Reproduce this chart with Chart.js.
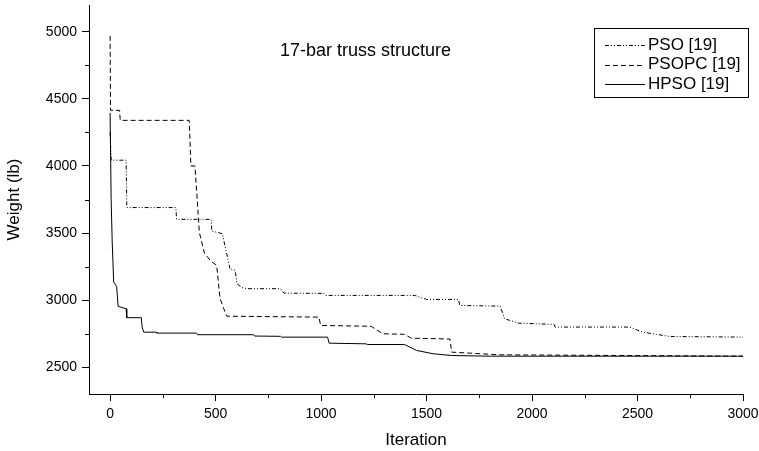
<!DOCTYPE html>
<html>
<head>
<meta charset="utf-8">
<script src="https://cdn.jsdelivr.net/npm/chart.js@4.4.1/dist/chart.umd.min.js"></script>
<style>
html,body{margin:0;padding:0;background:#fff;}
canvas{display:block;}
</style>
</head>
<body>
<canvas id="c" width="759" height="451"></canvas>
<script>
// ---- Data ----
const chartTitle = "17-bar truss structure";
const xTicks = [0, 500, 1000, 1500, 2000, 2500, 3000];
const xMinorTicks = [250, 750, 1250, 1750, 2250, 2750];
const yTicks = [2500, 3000, 3500, 4000, 4500, 5000];
const yMinorTicks = [2750, 3250, 3750, 4250, 4750];

const psoLabel = "PSO [19]";
const psoIter   = [0, 5, 76, 79, 312, 315, 479, 482, 532, 569, 593, 601, 625, 650, 808, 824, 1014, 1020, 1444, 1500, 1651, 1658, 1849, 1870, 1937, 2104, 2110, 2462, 2525, 2653, 3000];
const psoWeight = [4250, 4043, 4043, 3690, 3690, 3602, 3602, 3515, 3495, 3229, 3222, 3122, 3093, 3085, 3085, 3052, 3050, 3035, 3035, 3005, 3005, 2960, 2955, 2861, 2828, 2819, 2799, 2799, 2761, 2729, 2724];

const psopcLabel = "PSOPC [19]";
const psopcIter   = [0, 2, 45, 48, 375, 383, 402, 410, 423, 447, 478, 505, 521, 537, 553, 990, 998, 1237, 1293, 1395, 1428, 1611, 1619, 1848, 3000];
const psopcWeight = [4970, 4415, 4415, 4340, 4340, 4000, 4000, 3820, 3505, 3350, 3290, 3260, 3013, 2943, 2880, 2873, 2811, 2805, 2749, 2745, 2716, 2710, 2612, 2592, 2582];

const hpsoLabel = "HPSO [19]";
const hpsoIter   = [0, 5, 10, 17, 31, 38, 76, 79, 148, 152, 159, 219, 222, 410, 415, 680, 685, 808, 812, 1031, 1038, 1213, 1220, 1396, 1452, 1531, 1619, 1800, 3000];
const hpsoWeight = [4395, 3750, 3433, 3134, 3102, 2953, 2936, 2869, 2869, 2799, 2761, 2761, 2754, 2754, 2742, 2742, 2732, 2730, 2724, 2724, 2679, 2674, 2669, 2669, 2625, 2600, 2587, 2582, 2582];

const FONT = "'Liberation Sans', Arial, Helvetica, sans-serif";

function pts(xs, ys) { return xs.map((x, i) => ({x: x, y: ys[i]})); }

const datasets = [
  {label: psoLabel, data: pts(psoIter, psoWeight), borderDash: [4, 2, 1, 2, 1, 2]},
  {label: psopcLabel, data: pts(psopcIter, psopcWeight), borderDash: [5, 3]},
  {label: hpsoLabel, data: pts(hpsoIter, hpsoWeight), borderDash: []}
].map(d => Object.assign(d, {
  borderColor: '#000', backgroundColor: '#000', borderWidth: 1,
  pointRadius: 0, tension: 0, fill: false
}));

const extras = {
  id: 'extras',
  afterDraw(chart) {
    const ctx = chart.ctx;
    const xs = chart.scales.x, ys = chart.scales.y;
    ctx.save();
    ctx.strokeStyle = '#000';
    ctx.lineWidth = 1;
    // minor ticks
    ctx.beginPath();
    xMinorTicks.forEach(v => {
      const p = Math.round(xs.getPixelForValue(v)) + 0.5;
      ctx.moveTo(p, xs.top); ctx.lineTo(p, xs.top + 4);
    });
    yMinorTicks.forEach(v => {
      const p = Math.round(ys.getPixelForValue(v)) + 0.5;
      ctx.moveTo(ys.right, p); ctx.lineTo(ys.right - 4, p);
    });
    ctx.stroke();
    // title inside plot
    ctx.fillStyle = '#000';
    ctx.font = "18px " + FONT;
    ctx.textBaseline = 'middle';
    ctx.textAlign = 'left';
    ctx.fillText(chartTitle, 280, 51);
    // legend box
    const bx = 594.5, by = 28.5, bw = 154, bh = 69;
    ctx.strokeRect(bx, by, bw, bh);
    ctx.font = "17px " + FONT;
    const rows = [45, 64.5, 84];
    chart.data.datasets.forEach((d, i) => {
      const y = Math.round(rows[i]) + 0.5;
      ctx.setLineDash(d.borderDash);
      ctx.beginPath();
      ctx.moveTo(605, y); ctx.lineTo(645, y);
      ctx.stroke();
      ctx.setLineDash([]);
      ctx.fillText(d.label, 648, rows[i]);
    });
    ctx.restore();
  }
};

new Chart(document.getElementById('c'), {
  type: 'line',
  data: {datasets: datasets},
  plugins: [extras],
  options: {
    responsive: false,
    animation: false,
    devicePixelRatio: 1,
    layout: {padding: {left: 0, right: 16, top: 5, bottom: 0}},
    plugins: {legend: {display: false}, tooltip: {enabled: false}, title: {display: false}},
    scales: {
      x: {
        type: 'linear', min: -100, max: 3000,
        afterBuildTicks: s => { s.ticks = xTicks.map(v => ({value: v})); },
        afterFit: s => { s.height = 57; s.paddingLeft = 0; s.paddingRight = 0; },
        grid: {drawOnChartArea: false, drawTicks: true, tickLength: 7, color: '#000', tickColor: '#000'},
        border: {display: true, color: '#000', width: 1},
        ticks: {color: '#000', font: {family: FONT, size: 14}, padding: 5, maxRotation: 0, autoSkip: false,
                callback: v => String(v)},
        title: {display: true, text: 'Iteration', color: '#000', font: {family: FONT, size: 17}, padding: {top: 0, bottom: 0}}
      },
      y: {
        type: 'linear', min: 2300, max: 5200,
        afterBuildTicks: s => { s.ticks = yTicks.map(v => ({value: v})); },
        afterFit: s => { s.width = 89; s.paddingTop = 0; s.paddingBottom = 0; },
        grid: {drawOnChartArea: false, drawTicks: true, tickLength: 7, color: '#000', tickColor: '#000'},
        border: {display: true, color: '#000', width: 1},
        ticks: {color: '#000', font: {family: FONT, size: 14}, padding: 5, autoSkip: false,
                callback: v => String(v)},
        title: {display: true, text: 'Weight (lb)', color: '#000', font: {family: FONT, size: 17}, padding: {top: 4, bottom: 0}}
      }
    }
  }
});
</script>
</body>
</html>
